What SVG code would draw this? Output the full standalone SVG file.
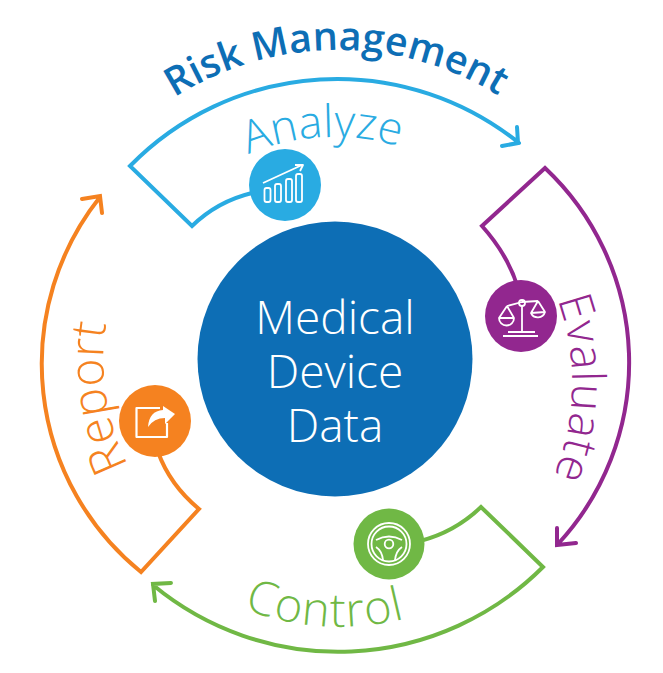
<svg xmlns="http://www.w3.org/2000/svg" width="663" height="673" viewBox="0 0 663 673">
<style>
.c{fill:none;stroke-width:4;stroke-linejoin:miter;stroke-linecap:round}
.i{fill:none;stroke:#fff;stroke-width:1.8;stroke-linejoin:round}
.l{font-family:"Open Sans","Liberation Sans",sans-serif;font-weight:300;font-size:46px}
.blue{stroke:#29abe2}.purple{stroke:#92278f}.green{stroke:#70b845}.orange{stroke:#f58220}
</style>
<defs>
<path id="pRisk" d="M140 123A305 305 0 0 1 530 118"/>
<path id="pAna" d="M230 163A223 223 0 0 1 420 154"/>
<path id="pEva" d="M535 253A246 246 0 0 1 535 513"/>
<path id="pCon" d="M230 603A267 267 0 0 0 450 603"/>
<path id="pRep" d="M156 508A232 232 0 0 1 118 279"/>
</defs>
<rect width="663" height="673" fill="#fff"/>
<g id="connectors">
<path class="c blue" d="M519 143A290 290 0 0 0 130 166L192 226A130 130 0 0 1 252 193M502 146L518 143L517 127"/>
<path class="c purple" d="M558 544A267 267 0 0 0 545 168L482 226Q508 255 518 288M576 543L557 545L557 528"/>
<path class="c green" d="M153 585A290 290 0 0 0 543 567L481 507Q455 532 420 541M171 583L153 584L155 601"/>
<path class="c orange" d="M100 197A268 268 0 0 0 141 572L199 509Q170 485 158 452M82 199L100 196L102 213"/>
</g>
<g id="center"><circle cx="335" cy="359" r="137.500" fill="#0d6eb5"/>
<g class="l" fill="#fff" text-anchor="middle"><text x="335" y="334">Medical</text><text x="335" y="388">Device</text><text x="335" y="442">Data</text></g></g>
<g id="title"><text font-family="'Open Sans','Liberation Sans',sans-serif" font-weight="600" font-size="39.500" fill="#0d6eb5" text-anchor="middle"><textPath href="#pRisk" startOffset="50.500%">Risk Management</textPath></text></g>
<g id="analyze"><circle cx="285" cy="185" r="36" fill="#29abe2"/>
<path class="i" d="M263 183L302 165M295 165L303 165L300 171"/>
<rect class="i" x="264.500" y="188" width="6" height="14" rx="2"/><rect class="i" x="275" y="184" width="6" height="18" rx="2"/><rect class="i" x="286" y="179" width="6" height="23" rx="2"/><rect class="i" x="296" y="174" width="6" height="28" rx="2"/>
<text class="l" style="font-size:45px" fill="#29abe2" text-anchor="middle"><textPath href="#pAna" startOffset="49.500%">Analyze</textPath></text></g>
<g id="evaluate"><circle cx="521" cy="316" r="36" fill="#92278f"/>
<path class="i" d="M507 306L522 302L538 301M522 306V332M508 332H535M503 336H538M507 306L499 318M507 306L514 318M538 301L531 313M538 301L545 312M499 318A7.500 7.500 0 0 0 514 318ZM531 313A7.500 7.500 0 0 0 545 312Z"/><circle class="i" cx="522" cy="303" r="3"/>
<text class="l" fill="#92278f" text-anchor="middle" letter-spacing="1"><textPath href="#pEva" startOffset="52%">Evaluate</textPath></text></g>
<g id="control"><circle cx="389" cy="544" r="35.500" fill="#70b845"/>
<circle class="i" cx="389" cy="544" r="21"/><circle class="i" cx="389" cy="544" r="17.500"/><circle class="i" cx="389" cy="544" r="4.300"/>
<path class="i" d="M376 540Q389 533 402 540M376 547Q382 551 383 560M402 547Q396 551 395 560"/>
<text class="l" style="font-size:47px" fill="#70b845" text-anchor="middle" letter-spacing="1.200"><textPath href="#pCon" startOffset="43%">Control</textPath></text></g>
<g id="report"><circle cx="155" cy="421" r="36" fill="#f58220"/>
<path class="i" style="stroke-width:2.200" d="M160 408H136.500V437H167V423"/>
<path fill="#fff" d="M148 427Q149 411 163 410V406L175 414L165 424V418Q154 418 148 427Z"/>
<text class="l" style="font-size:48px" fill="#f58220" text-anchor="middle"><textPath href="#pRep" startOffset="51%">Report</textPath></text></g>
</svg>
